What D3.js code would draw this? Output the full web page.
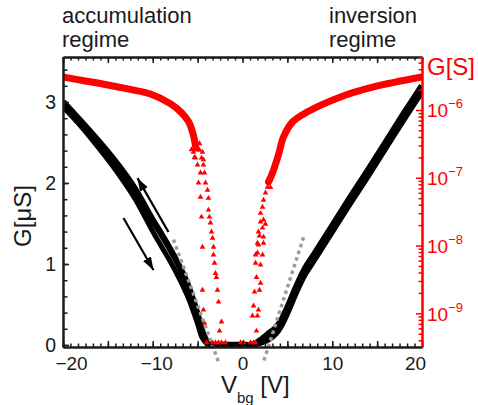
<!DOCTYPE html>
<html>
<head>
<meta charset="utf-8">
<script src="https://cdn.jsdelivr.net/npm/d3@7"></script>
<style>
  html, body { margin: 0; padding: 0; background: #fff; }
  svg { display: block; font-family: "Liberation Sans", Arial, Helvetica, sans-serif; }
</style>
</head>
<body>
<svg id="chart" width="478" height="405"></svg>
<script>
// ---- Back-gate sweep: linear conductance G [µS] for both sweep directions ----
const vbg     = [-20,-18,-16,-14,-12,-10,-9,-8,-7,-6,-5,-4.5,-4,-3.5,-3,-2,-1,0,1,1.5,2,2.5,3,3.5,4,4.5,5,5.5,6,7,8,10,12,14,16,18,20];
const gSweepA = [3.00,2.76,2.51,2.24,1.93,1.54,1.36,1.17,0.96,0.71,0.37,0.17,0.05,0.01,0,0,0,0,0,0.02,0.06,0.10,0.15,0.19,0.25,0.34,0.46,0.59,0.72,0.95,1.12,1.47,1.82,2.16,2.51,2.86,3.20];
const gSweepB = [2.94,2.70,2.43,2.14,1.81,1.40,1.21,1.02,0.81,0.57,0.26,0.09,0.02,0,0,0,0,0,0,0.01,0.02,0.04,0.07,0.11,0.17,0.26,0.38,0.51,0.64,0.87,1.04,1.39,1.74,2.08,2.43,2.78,3.12];

// ---- Same measurement on a log scale, G [S] (red triangles) ----
// densely sampled upper parts of the two branches
const bandLeftV  = [-20,-17.5,-15,-12.5,-10.25,-8,-6.9,-6,-5.5,-5.2];
const bandLeftG  = [3.07e-6,2.68e-6,2.34e-6,2.01e-6,1.72e-6,1.23e-6,9.4e-7,6.7e-7,4.4e-7,2.75e-7];
const bandRightV = [2.9,3.34,4.0,4.57,5.57,7.24,10.92,14.6,20];
const bandRightG = [8.7e-8,1.18e-7,2.17e-7,4.0e-7,6.65e-7,9.4e-7,1.56e-6,2.19e-6,3.07e-6];
// individual readings around the conductance minimum
const dotV = [-5.68,-5.35,-4.79,-4.46,-4.35,
              -5.46,-5.24,-4.79,-4.57,-4.35,-4.24,-5.01,-4.68,-4.90,-4.68,-4.57,-4.46,-4.46,-4.35,-4.24,
              -4.12,-3.90,-3.79,-3.79,-3.68,-3.57,-3.45,-3.34,-3.23,-3.23,-3.12,-3.01,-2.90,-2.79,-2.67,-2.34,-2.56,
              -4.0,-3.34,-3.01,-2.67,-2.34,-1.9,-0.22,0.11,0.89,1.23,1.45,
              3.12,2.79,2.56,2.34,2.23,2.01,2.34,2.01,2.56,2.23,1.78,1.89,2.34,1.67,2.34,1.78,1.67,2.23,1.45,
              2.01,1.45,1.56,2.01,1.89,1.34,1.23,1.78,1.11,1.67,1.56];
const dotG = [2.6e-7,2.0e-7,3.2e-7,2.4e-7,1.85e-7,
              2.4e-7,1.96e-7,2.57e-7,1.96e-7,1.55e-7,1.18e-7,1.55e-7,1.18e-7,8.4e-8,5.2e-8,2.64e-8,9.5e-9,2.2e-9,1.12e-9,7.2e-10,
              8.4e-8,6.6e-8,5.0e-8,3.35e-8,2.64e-8,2.16e-8,1.59e-8,1.29e-8,9.5e-9,7.3e-9,5.5e-9,3.9e-9,3.4e-9,2.2e-9,1.47e-9,7.5e-10,5.5e-10,
              3.7e-10,3.7e-10,3.7e-10,3.7e-10,3.7e-10,3.7e-10,3.7e-10,3.7e-10,3.7e-10,3.7e-10,3.7e-10,
              7.2e-8,7.3e-8,6.0e-8,4.7e-8,3.7e-8,3.0e-8,2.39e-8,2.23e-8,2.08e-8,1.82e-8,1.59e-8,1.39e-8,1.34e-8,1.09e-8,1.09e-8,1.02e-8,7.8e-9,7.3e-9,7.3e-9,
              5.2e-9,5.5e-9,3.4e-9,2.8e-9,2.2e-9,2.07e-9,1.29e-9,1.12e-9,9.2e-10,9.2e-10,5.5e-10];

// ---- Linear extrapolations of the two branches (threshold voltages) ----
const fitLeftV  = [-7.7, -2.67];
const fitLeftG  = [1.30, -0.21];
const fitRightV = [6.8, 2.34];
const fitRightG = [1.33, -0.21];

// ---- Tick values ----
const xTicksMajor = [-20,-15,-10,-5,0,5,10,15,20];
const xTickLabels = [-20,-10,0,10,20];
const yTickLabels = [0,1,2,3];
const logTickLabels = [1e-9,1e-8,1e-7,1e-6];

// ---- Scales ----
const x    = d3.scaleLinear().domain([-20, 20]).range([63, 422]);
const yLin = d3.scaleLinear().domain([-0.025, 3.556]).range([347, 57]);
const yLog = d3.scaleLog().domain([Math.pow(10, -9.497), Math.pow(10, -5.218)]).range([347, 57]);

const svg = d3.select('#chart');
const ink = '#1a1a1a', red = '#ff0000', grey = '#9b9b9b';
const fam = '"Liberation Sans", Arial, Helvetica, sans-serif';
const smooth = d3.curveCatmullRom.alpha(0.5);

const defs = svg.append('defs');
defs.append('clipPath').attr('id', 'plotArea').append('rect')
  .attr('x', x(-20)).attr('y', yLin.range()[1])
  .attr('width', x(20) - x(-20)).attr('height', yLin.range()[0] - yLin.range()[1]);
defs.append('marker').attr('id', 'head').attr('markerUnits', 'userSpaceOnUse')
  .attr('markerWidth', 14).attr('markerHeight', 10).attr('refX', 13).attr('refY', 4.5)
  .attr('orient', 'auto')
  .append('path').attr('d', 'M0,0L13,4.5L0,9Z').attr('fill', '#000');

const plot = svg.append('g').attr('clip-path', 'url(#plotArea)');

// linear conductance, two sweeps
const lineLin = (gs) => d3.line().curve(smooth)
  .x((d, i) => x(vbg[i])).y((d, i) => yLin(gs[i]))(gs);
plot.append('path').attr('d', lineLin(gSweepA)).attr('fill', 'none')
  .attr('stroke', '#000').attr('stroke-width', 6.5).attr('stroke-linejoin', 'round');
plot.append('path').attr('d', lineLin(gSweepB)).attr('fill', 'none')
  .attr('stroke', '#000').attr('stroke-width', 5).attr('stroke-linejoin', 'round');

// extrapolation lines (drawn past the frame)
[[fitLeftV, fitLeftG], [fitRightV, fitRightG]].forEach(([vs, gs]) => {
  svg.append('line')
    .attr('x1', x(vs[0])).attr('y1', yLin(gs[0]))
    .attr('x2', x(vs[1])).attr('y2', yLin(gs[1]))
    .attr('stroke', grey).attr('stroke-width', 3.5).attr('stroke-dasharray', '3.5,3.5');
});

// log conductance: dense branches
const lineLog = (vs, gs) => d3.line().curve(smooth)
  .x((d, i) => x(vs[i])).y((d, i) => yLog(gs[i]))(gs);
plot.append('path').attr('d', lineLog(bandLeftV, bandLeftG)).attr('fill', 'none')
  .attr('stroke', red).attr('stroke-width', 7).attr('stroke-linecap', 'round');
plot.append('path').attr('d', lineLog(bandRightV, bandRightG)).attr('fill', 'none')
  .attr('stroke', red).attr('stroke-width', 7).attr('stroke-linecap', 'round');

// log conductance: sparse triangles
const tri = d3.symbol().type(d3.symbolTriangle).size(14);
plot.selectAll('path.dot').data(dotV).join('path').attr('class', 'dot')
  .attr('d', tri)
  .attr('transform', (d, i) => `translate(${x(d)},${yLog(dotG[i])})`)
  .attr('fill', red);

// sweep direction arrows
const arrows = [
  { from: [-8.25, 1.395], to: [-11.7, 2.06] },
  { from: [-13.26, 1.568], to: [-9.92, 0.926] }
];
arrows.forEach(a => {
  svg.append('line')
    .attr('x1', x(a.from[0])).attr('y1', yLin(a.from[1]))
    .attr('x2', x(a.to[0])).attr('y2', yLin(a.to[1]))
    .attr('stroke', '#000').attr('stroke-width', 2.2).attr('marker-end', 'url(#head)');
});

// ---- Axes ----
const fmt = d3.format('');
function style(g, color, size) {
  g.attr('font-family', fam).attr('font-size', size);
  g.select('.domain').attr('stroke', color).attr('stroke-width', 2);
  g.selectAll('.tick line').attr('stroke', color).attr('stroke-width', 1.5);
  g.selectAll('.tick text').attr('fill', ink);
}

const xMinor = d3.range(0, 49).map(i => -20 + i * 5 / 6);
const y0 = yLin.range()[0], yTop = yLin.range()[1];

// bottom
const gxMinor = svg.append('g').attr('transform', `translate(0,${y0})`)
  .call(d3.axisBottom(x).tickValues(xMinor).tickSize(-3.5).tickSizeOuter(0).tickFormat(''));
style(gxMinor, ink, 19);
const gx = svg.append('g').attr('transform', `translate(0,${y0})`)
  .call(d3.axisBottom(x).tickValues(xTicksMajor).tickSize(-6).tickSizeOuter(0).tickPadding(10)
    .tickFormat(v => xTickLabels.includes(v) ? fmt(v) : ''));
style(gx, ink, 19);
gx.selectAll('.tick text').attr('dx', d => d === -20 ? 8 : d === -10 ? 3.5 : d === 20 ? -7 : 0);

// top
const gtMinor = svg.append('g').attr('transform', `translate(0,${yTop})`)
  .call(d3.axisTop(x).tickValues(xMinor).tickSize(-3.5).tickSizeOuter(0).tickFormat(''));
style(gtMinor, ink, 19);
const gt = svg.append('g').attr('transform', `translate(0,${yTop})`)
  .call(d3.axisTop(x).tickValues(xTicksMajor).tickSize(-6).tickSizeOuter(0).tickFormat(''));
style(gt, ink, 19);

// left (linear)
const gyMinor = svg.append('g').attr('transform', `translate(${x(-20)},0)`)
  .call(d3.axisLeft(yLin).tickValues(d3.range(0, 18).map(i => i * 0.2)).tickSize(-4.5).tickSizeOuter(0).tickFormat(''));
style(gyMinor, ink, 19);
const gy = svg.append('g').attr('transform', `translate(${x(-20)},0)`)
  .call(d3.axisLeft(yLin).tickValues(yTickLabels).tickSize(-6).tickSizeOuter(0).tickPadding(7).tickFormat(fmt));
style(gy, ink, 19.5);

// right (log)
const logMinor = [];
for (let n = -10; n <= -6; n++) for (let k = 2; k <= 9; k++) {
  const v = k * Math.pow(10, n);
  if (v >= yLog.domain()[0] && v <= yLog.domain()[1]) logMinor.push(v);
}
const grMinor = svg.append('g').attr('transform', `translate(${x(20)},0)`)
  .call(d3.axisRight(yLog).tickValues(logMinor).tickSize(-3.5).tickSizeOuter(0).tickFormat(''));
style(grMinor, red, 19);
const gr = svg.append('g').attr('transform', `translate(${x(20)},0)`)
  .call(d3.axisRight(yLog).tickValues(logTickLabels).tickSize(-6).tickSizeOuter(0).tickFormat(''));
style(gr, red, 19);
gr.selectAll('.tick').each(function (d) {
  const t = d3.select(this).append('text')
    .attr('x', 5).attr('y', 7).attr('fill', red).attr('font-size', 19).attr('text-anchor', 'start');
  t.append('tspan').text('10');
  t.append('tspan').attr('font-size', 13).attr('dy', -9).text('\u2212' + Math.round(-Math.log10(d)));
});

// ---- Titles and annotations ----
svg.append('text').attr('transform', `translate(31,216) rotate(-90)`)
  .attr('text-anchor', 'middle').attr('font-size', 24).attr('fill', ink).text('G[\u03bcS]');

svg.append('text').attr('x', 427).attr('y', 75).attr('font-size', 24).attr('fill', red).text('G[S]');

const xt = svg.append('text').attr('x', 221).attr('y', 393).attr('font-size', 24)
  .attr('fill', ink).style('white-space', 'pre');
xt.append('tspan').text('V');
xt.append('tspan').attr('font-size', 15).attr('dy', 10).text('bg');
xt.append('tspan').attr('dy', -10).text(' [V]');

const notes = [
  { x: 62, lines: ['accumulation', 'regime'] },
  { x: 329, lines: ['inversion', 'regime'] }
];
notes.forEach(n => {
  n.lines.forEach((s, i) => {
    svg.append('text').attr('x', n.x).attr('y', 23.3 + i * 23.4)
      .attr('font-size', 22).attr('fill', ink).text(s);
  });
});
</script>
</body>
</html>
